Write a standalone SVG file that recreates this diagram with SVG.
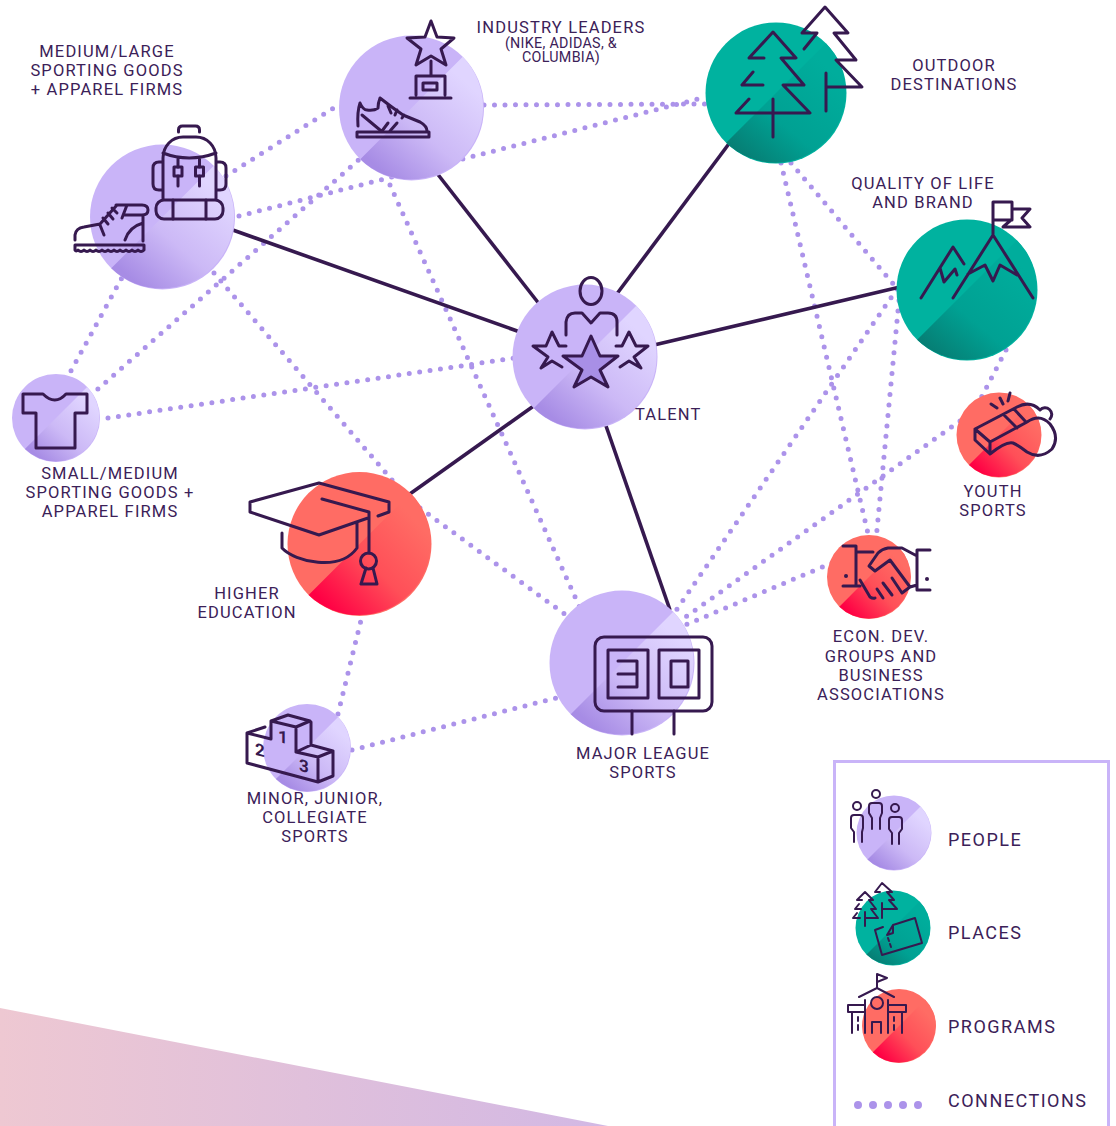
<svg xmlns="http://www.w3.org/2000/svg" width="1116" height="1126" viewBox="0 0 1116 1126">
<style>
.t{font-family:"Roboto","Liberation Sans",sans-serif;font-size:16.5px;letter-spacing:1.15px;fill:#3b2158;text-anchor:middle}
.s{font-size:14.3px;letter-spacing:.3px}
.l{text-anchor:start;font-size:18px;letter-spacing:1.5px}
.d{font-family:"Roboto","Liberation Sans",sans-serif;font-weight:700;font-size:17px;fill:#36194f;text-anchor:middle}
.i{fill:none;stroke:#36194f;stroke-width:3;stroke-linecap:round;stroke-linejoin:round}
.i2{fill:none;stroke:#36194f;stroke-width:2;stroke-linecap:round;stroke-linejoin:round}
.dots line{stroke:#ac93ea;stroke-width:5;stroke-linecap:round;stroke-dasharray:0 10.5;fill:none}
.solid line{stroke:#36194f;stroke-width:3.6;stroke-linecap:butt}
</style>
<defs>
<linearGradient id="gP" x1="0.2" y1="0.95" x2="0.85" y2="0.2"><stop offset="0" stop-color="#a78ce5"/><stop offset="0.45" stop-color="#ccb9f6"/><stop offset="1" stop-color="#e0d5ff"/></linearGradient>
<linearGradient id="gG" x1="0.2" y1="0.98" x2="0.85" y2="0.2"><stop offset="0" stop-color="#067f75"/><stop offset="0.4" stop-color="#00a193"/><stop offset="1" stop-color="#00ad9c"/></linearGradient>
<linearGradient id="gR" x1="0.12" y1="0.9" x2="0.85" y2="0.2"><stop offset="0" stop-color="#ff0044"/><stop offset="0.5" stop-color="#ff4f58"/><stop offset="1" stop-color="#ff6c64"/></linearGradient>
<linearGradient id="gB" x1="0" y1="0" x2="1" y2="0"><stop offset="0" stop-color="#eec8d2"/><stop offset="1" stop-color="#d2b8e4"/></linearGradient>
<g id="dP"><circle r="1" fill="#c9b4f8"/><path d="M-.707 .707A1 1 0 0 0 .707 -.707Z" fill="url(#gP)"/></g>
<g id="dG"><circle r="1" fill="#00b29f"/><path d="M-.707 .707A1 1 0 0 0 .707 -.707Z" fill="url(#gG)"/></g>
<g id="dR"><circle r="1" fill="#ff6c64"/><path d="M-.707 .707A1 1 0 0 0 .707 -.707Z" fill="url(#gR)"/></g>
</defs>
<polygon points="0,1008 608,1126 0,1126" fill="url(#gB)"/>
<g id="connectors">
<g class="dots">
<line x1="226" y1="176" x2="340" y2="104"/>
<line x1="239" y1="216" x2="706" y2="97"/>
<line x1="484" y1="105" x2="706" y2="104"/>
<line x1="90" y1="396" x2="362" y2="157"/>
<line x1="66" y1="380" x2="125" y2="272"/>
<line x1="108" y1="418" x2="515" y2="358"/>
<line x1="214" y1="273" x2="392" y2="480"/>
<line x1="420" y1="508" x2="570" y2="618"/>
<line x1="390" y1="185" x2="580" y2="608"/>
<line x1="781" y1="163" x2="870" y2="542"/>
<line x1="791" y1="163" x2="900" y2="292"/>
<line x1="900" y1="290" x2="876" y2="540"/>
<line x1="897" y1="289" x2="675" y2="612"/>
<line x1="1006" y1="350" x2="980" y2="400"/>
<line x1="960" y1="421" x2="680" y2="621"/>
<line x1="832" y1="563" x2="683" y2="626"/>
<line x1="363" y1="612" x2="336" y2="722"/>
<line x1="352" y1="750" x2="560" y2="697"/>
</g>
<g class="solid">
<line x1="230" y1="229" x2="520" y2="332"/>
<line x1="436" y1="172" x2="540" y2="305"/>
<line x1="731" y1="141" x2="616" y2="295"/>
<line x1="900" y1="287" x2="654" y2="345"/>
<line x1="407" y1="496" x2="535" y2="405"/>
<line x1="670" y1="610" x2="605" y2="423"/>
</g>
</g>
<g id="node-medium-large">
<use href="#dP" transform="translate(162.500 217) scale(72.5)"/>
<path class="i" d="M178.5 132v-2q0-4 4-4h13q4 0 4 4v2M163 199V158C163 146 172 137 183 137H196C207 137 216 146 216 158V199M163 153Q189 163 216 153M163 162H159Q153 162 153 168V184Q153 190 159 190H163M216 162H220Q226 162 226 168V184Q226 190 220 190H216M173 200V219M206 200V219M178 158V167M178 176V186M199.500 158V167M199.500 176V186"/>
<rect class="i" x="156" y="200" width="67" height="19" rx="8"/>
<rect class="i" x="174" y="167" width="8" height="9"/><rect class="i" x="195.500" y="167" width="8" height="9"/>
<path class="i" d="M75 240V235Q76 228 84 227L100 224L117 205M116 205H142Q148 205 148 210Q148 215 142 215H125M127 205L122 218M143 215V241M125 240Q129 227 143 223M100 225L104 235M103 218L108 224M108 213L113 219M112 208L117 213M75 245H144V250Q141 253 138 250Q135 253 132 250Q129 253 126 250Q123 253 120 250Q117 253 114 250Q111 253 108 250Q105 253 102 250Q99 253 96 250Q93 253 90 250Q87 253 84 250Q81 253 78 250Q76 252 75 250Z"/>
<text class="t" x="107" y="57">MEDIUM/LARGE</text>
<text class="t" x="107" y="76">SPORTING GOODS</text>
<text class="t" x="107" y="95">+ APPAREL FIRMS</text>
</g>
<g id="node-industry">
<use href="#dP" transform="translate(411.500 108) scale(72.5)"/>
<path class="i" d="M431 21L437 37L454 38L441 49L446 65L431 56L416 65L421 49L407 38L425 37ZM431 61V75M416 95V76H445V95M410 98H451"/>
<rect class="i" x="423" y="83" width="14" height="7"/>
<path class="i" d="M358 126Q357 112 360 103Q363 110 367 110Q374 111 378 108Q378 103 380 98Q390 106 403 115L420 122Q427 126 427 131M362 115L380 130M388 123L382 131M397 123L390 131M388 106L391 113M397 110L395 115M404 115L402 118"/>
<rect class="i" x="357" y="132" width="72" height="5"/>
<text class="t" x="561" y="33">INDUSTRY LEADERS</text>
<text class="t s" x="561" y="48">(NIKE, ADIDAS, &amp;</text>
<text class="t s" x="561" y="62">COLUMBIA)</text>
</g>
<g id="node-outdoor">
<use href="#dG" transform="translate(776 93) scale(70.500)"/>
<path class="i" d="M764 58H749L773 32L796 58H781L804 85H783L810 113H736L749 99M761 113H736M753 72L742 85H763M773 99V137"/>
<path class="i" d="M804 49L817 33H802L825 7L848 33H834L856 60H836L862 87H826M826 73V111"/>
<text class="t" x="954" y="71">OUTDOOR</text>
<text class="t" x="954" y="90">DESTINATIONS</text>
</g>
<g id="node-quality">
<use href="#dG" transform="translate(967 290) scale(70.500)"/>
<path class="i" d="M993 235V202H1012V220H993M1012 209H1030L1022 218L1030 227H1003L1011 220M953 298L993 235L1033 298M968 274L985 265L993 281L1000 265L1017 275M921 298L953 247L964 264M940 268L944 282L955 269L957 275"/>
<text class="t" x="923" y="189">QUALITY OF LIFE</text>
<text class="t" x="923" y="208">AND BRAND</text>
</g>
<g id="node-talent">
<use href="#dP" transform="translate(585 357) scale(72.5)"/>
<ellipse class="i" cx="591" cy="291" rx="11" ry="13.500"/>
<path class="i" d="M566 335V322Q567 313 575 313H582L591 323L600 313H608Q617 313 617 322V335"/>
<path class="i" style="fill:#a88fe6" d="M591 336L600 356H618L600 370L608 387L591 377L574 387L582 370L563 356H582Z"/>
<path class="i" d="M566 346H559L552 332L546 346H533L548 357L541 368L552 361L562 367M616 346H622L629 332L636 346H648L634 357L641 368L629 361L620 367"/>
<text class="t" style="text-anchor:start" x="635" y="420">TALENT</text>
</g>
<g id="node-small">
<use href="#dP" transform="translate(56 418) scale(44)"/>
<path class="i" d="M43 394Q55 406 66 394H87V413H75V448H36V413H23V394Z"/>
<text class="t" x="110" y="479">SMALL/MEDIUM</text>
<text class="t" x="110" y="498">SPORTING GOODS +</text>
<text class="t" x="110" y="517">APPAREL FIRMS</text>
</g>
<g id="node-higher-ed">
<use href="#dR" transform="translate(359.500 544) scale(72)"/>
<path class="i" d="M378 516L389 512V502L319 483L250 502V512L319 535L368 518M322 499L369 512V553M282 533V548C295 562 340 572 357 548V523M366 568L361 584H377L373 568"/>
<circle class="i" cx="368.500" cy="561" r="8"/>
<text class="t" x="247" y="599">HIGHER</text>
<text class="t" x="247" y="618">EDUCATION</text>
</g>
<g id="node-minor">
<use href="#dP" transform="translate(307 748) scale(44)"/>
<path class="i" d="M271 739V721L288 715L310 721L296 727L271 721M296 727V752M311 722V745M296 752L311 745L333 751L318 757L296 752M318 757V782M333 751V776L318 782L247 763V733L265 727M247 733L271 739"/>
<text class="d" transform="translate(283 743) skewY(14)">1</text>
<text class="d" transform="translate(260 756) skewY(14)">2</text>
<text class="d" transform="translate(304 772) skewY(14)">3</text>
<text class="t" x="315" y="804">MINOR, JUNIOR,</text>
<text class="t" x="315" y="823">COLLEGIATE</text>
<text class="t" x="315" y="842">SPORTS</text>
</g>
<g id="node-major">
<use href="#dP" transform="translate(622 663) scale(72.5)"/>
<rect class="i" x="595" y="637" width="117" height="74" rx="9"/>
<rect class="i" x="608" y="650" width="40" height="48"/>
<rect class="i" x="659" y="650" width="40" height="48"/>
<rect class="i" x="671" y="661" width="17" height="26"/>
<path class="i" d="M618 661H637V687H618M618 674H637M632 711V734M674 711V734"/>
<text class="t" x="643" y="759">MAJOR LEAGUE</text>
<text class="t" x="643" y="778">SPORTS</text>
</g>
<g id="node-youth">
<use href="#dR" transform="translate(999 435) scale(42.500)"/>
<path class="i" d="M975 429L990 442V454L975 440ZM975 429L1017 407Q1030 400 1040 410M990 442L1027 422Q1040 413 1050 424Q1060 437 1052 449Q1040 460 1027 452Q1018 445 1013 443Q1006 441 990 454M1004 415L1017 428M1014 409L1026 422M991 404L997 408M1000 398L1003 404M1010 393L1008 401M1040 410A6.500 6.500 0 1 1 1050 419"/>
<text class="t" x="993" y="497">YOUTH</text>
<text class="t" x="993" y="516">SPORTS</text>
</g>
<g id="node-econ">
<use href="#dR" transform="translate(869 577) scale(42)"/>
<path class="i" d="M843 546H856V586M843 586H860M856 552H873M930 550H917V590H930M917 556L902 548H888Q882 549 878 553L869 566L875 571L890 560L910 587L902 593L892 578M910 587L917 585M860 580L870 597Q873 599 875 598M877 589L883 598M883 583L892 595"/>
<circle cx="846" cy="576" r="2" fill="#36194f"/><circle cx="927" cy="579" r="2" fill="#36194f"/>
<text class="t" x="881" y="642">ECON. DEV.</text>
<text class="t" x="881" y="662">GROUPS AND</text>
<text class="t" x="881" y="681">BUSINESS</text>
<text class="t" x="881" y="700">ASSOCIATIONS</text>
</g>
<g id="legend">
<path d="M834.500 1130V761.500H1108.500V1130" fill="none" stroke="#c9b4f8" stroke-width="3"/>
<use href="#dP" transform="translate(894 833) scale(37.500)"/>
<circle class="i2" cx="876" cy="794" r="4"/><circle class="i2" cx="857" cy="806" r="4"/><circle class="i2" cx="895" cy="808" r="4"/>
<path class="i2" d="M872 829V818L869 813V806Q869 803 872 803H879Q882 803 882 806V813L880 818V829M854 842V832L851 828V818Q851 815 854 815H860Q863 815 863 818V828L862 832V842M892 844V833L889 829V820Q889 817 892 817H899Q902 817 902 820V829L899 833V844"/>
<text class="t l" x="948" y="846">PEOPLE</text>
<use href="#dG" transform="translate(893 928) scale(37.500)"/>
<path class="i2" d="M880 892H875L882 883L892 892H887L894 900H889L897 909H882M882 903V918M862 900H857L865 892L873 900H869L876 909H871L878 918H865M865 912V926M861 909H855L859 904M860 918H853L857 913"/>
<path class="i2" d="M883 927L875 930L882 955L922 943L915 918L893 925L887 935L893 933L893 925M888 938L889 941M890 944L891 947"/>
<text class="t l" x="948" y="939">PLACES</text>
<use href="#dR" transform="translate(899 1026) scale(37)"/>
<path class="i2" d="M877 988V974L887 978L877 982M859 997L877 988L894 997M865 1000V1033M888 1000V1033M865 1005H848V1012H865M888 1005H906V1012H888M852 1013V1033M902 1013V1033M872 1033V1022H881V1033M858 1017V1021M858 1025V1030M894 1017V1021M894 1025V1030"/>
<circle class="i2" cx="877" cy="1003" r="6"/>
<text class="t l" x="948" y="1033">PROGRAMS</text>
<path d="M858 1105H920" fill="none" stroke="#ac93ea" stroke-width="8" stroke-linecap="round" stroke-dasharray="0 15"/>
<text class="t l" x="948" y="1107">CONNECTIONS</text>
</g>
</svg>
